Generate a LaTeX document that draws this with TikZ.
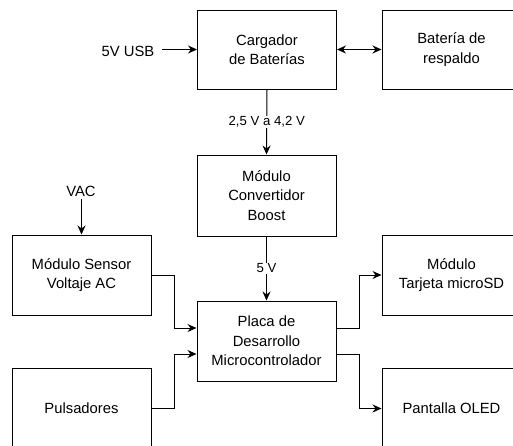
\documentclass[tikz,border=0pt]{standalone}
\usepackage{fontspec}
\setmainfont{Liberation Sans}
\usetikzlibrary{arrows.meta}
\begin{document}
\begin{tikzpicture}[x=1pt,y=-1pt,
  blk/.style={draw,line width=1pt,minimum width=139pt,minimum height=80pt,align=center,
    font=\fontsize{14.8}{19.5}\selectfont,inner sep=0pt},
  txt/.style={font=\fontsize{14.8}{19.5}\selectfont,inner sep=0pt},
  lbl/.style={fill=white,font=\fontsize{13.2}{14}\selectfont,inner sep=1pt},
  arr/.style={line width=1pt,-{Stealth[length=9pt,width=8pt,inset=3pt]}},
  barr/.style={line width=1pt,{Stealth[length=9pt,width=8pt,inset=3pt]}-{Stealth[length=9pt,width=8pt,inset=3pt]}}]
\clip (0,0) rectangle (513,445);
\fill[white] (0,0) rectangle (513,445);
\node[blk,minimum height=79pt] (carg) at (267,49.5) {Cargador\\de Baterías};
\node[blk,minimum height=79pt] (bat) at (451.5,49.5) {Batería de\\respaldo};
\node[blk,minimum height=81pt] (conv) at (266.5,195.5) {Módulo\\Convertidor\\Boost};
\node[blk] (sens) at (81.5,275) {Módulo Sensor\\Voltaje AC};
\node[blk] (tarj) at (451.5,275) {Módulo\\Tarjeta microSD};
\node[blk] (placa) at (266.5,341) {Placa de\\Desarrollo\\Microcontrolador};
\node[blk] (puls) at (81.5,408.5) {Pulsadores};
\node[blk] (pant) at (451.5,408.5) {Pantalla OLED};
\node[txt] (usb) at (128,51) {5V USB};
\node[txt] (vac) at (81,191) {VAC};
\coordinate (usbend) at (162,49.5);
\coordinate (vacend) at (81.5,199);
\draw[arr] (usbend) -- (carg.west);
\draw[barr] (carg.east) -- (bat.west);
\draw[arr] (vacend) -- (sens.north);
\draw[arr] (carg.south) -- node[lbl]{2,5 V a 4,2 V} (conv.north);
\draw[arr] (conv.south) -- node[lbl]{5 V} (placa.north);
\draw[arr] (sens.east) -- ++(23,0) |- ([yshift=13pt]placa.west);
\draw[arr] (puls.east) -- ++(23,0) |- ([yshift=-13pt]placa.west);
\draw[arr] ([yshift=13pt]placa.east) -- ++(23,0) |- (tarj.west);
\draw[arr] ([yshift=-13pt]placa.east) -- ++(23,0) |- (pant.west);
\end{tikzpicture}
\end{document}
